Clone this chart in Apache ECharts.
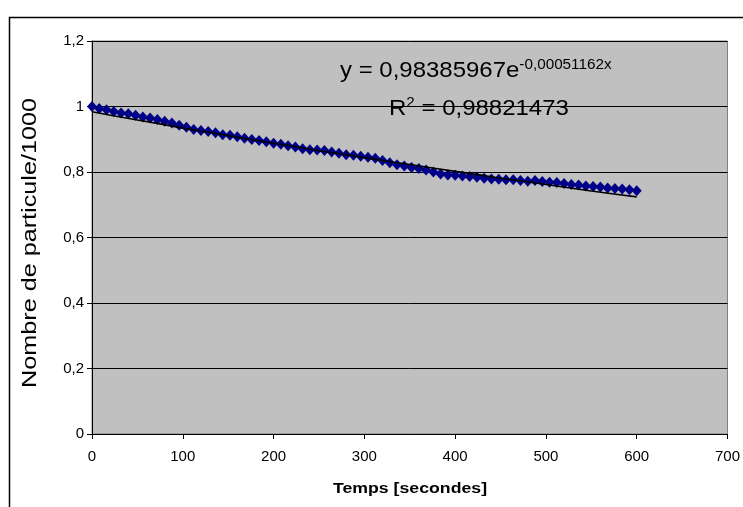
<!DOCTYPE html>
<html>
<head>
<meta charset="utf-8">
<script src="https://cdn.jsdelivr.net/npm/echarts@6/dist/echarts.min.js"></script>
<style>
html,body{margin:0;padding:0;background:#fff;}
#c{width:743px;height:507px;}
</style>
</head>
<body>
<div id="c"></div>
<script>
// Measured data (time in seconds, particles/1000)
var times = [0,8,16,24,32,40,48,56,64,72,80,88,96,104,112,120,128,136,144,152,160,168,176,184,192,200,208,216,224,232,240,248,256,264,272,280,288,296,304,312,320,328,336,344,352,360,368,376,384,392,400,408,416,424,432,440,448,456,464,472,480,488,496,504,512,520,528,536,544,552,560,568,576,584,592,600];
var particles = [1.000,0.994,0.990,0.985,0.980,0.978,0.973,0.968,0.965,0.960,0.955,0.950,0.943,0.937,0.930,0.927,0.924,0.920,0.914,0.912,0.908,0.903,0.899,0.896,0.892,0.888,0.885,0.880,0.876,0.871,0.868,0.867,0.866,0.861,0.857,0.853,0.851,0.848,0.845,0.842,0.835,0.828,0.822,0.818,0.814,0.811,0.806,0.800,0.794,0.791,0.790,0.788,0.786,0.784,0.781,0.779,0.778,0.776,0.776,0.774,0.772,0.774,0.771,0.769,0.768,0.765,0.762,0.760,0.757,0.756,0.754,0.751,0.750,0.748,0.746,0.743];
// Trend line
var trendTimes = [0,25,50,75,100,125,150,175,200,225,250,275,300,325,350,375,400,425,450,475,500,525,550,575,600];
var trendValues = [0.984,0.971,0.959,0.947,0.934,0.923,0.911,0.899,0.888,0.877,0.865,0.855,0.844,0.833,0.823,0.812,0.802,0.792,0.781,0.772,0.762,0.752,0.742,0.733,0.724];
var xTitle = 'Temps [secondes]';
var yTitle = 'Nombre de particule/1000';
var eqMain = 'y = 0,98385967e';
var eqExp = '-0,00051162x';
var r2Label = '0,98821473';

var chart = echarts.init(document.getElementById('c'), null, {renderer:'canvas'});
var pts = times.map(function(t,i){return [t, particles[i]];});
var tpts = trendTimes.map(function(t,i){return [t, trendValues[i]];});
var fmt = function(v){return String(Math.round(v*10)/10).replace('.', ',');};
var font = 'Liberation Sans, Arial, sans-serif';
chart.setOption({
  animation:false,
  backgroundColor:'#ffffff',
  grid:{left:92, top:41, width:637, height:393, show:true, backgroundColor:'#c0c0c0', borderColor:'#808080', borderWidth:1},
  xAxis:{type:'value', min:0, max:700, interval:100,
    axisLine:{show:true, onZero:false, lineStyle:{color:'#000', width:1}},
    axisTick:{show:true, inside:false, length:5, lineStyle:{color:'#000'}},
    axisLabel:{fontFamily:font, fontSize:15, color:'#000', margin:15},
    splitLine:{show:false}},
  yAxis:{type:'value', min:0, max:1.2, interval:0.2,
    axisLine:{show:true, onZero:false, lineStyle:{color:'#000', width:1}},
    axisTick:{show:true, inside:false, length:5, lineStyle:{color:'#000'}},
    axisLabel:{fontFamily:font, fontSize:15, color:'#000', margin:8, formatter:fmt},
    splitLine:{show:true, lineStyle:{color:'#000', width:1}}},
  series:[
    {type:'scatter', data:pts, symbol:'diamond', symbolSize:[10,11],
     itemStyle:{color:'#000088', opacity:1}, z:2},
    {type:'line', data:tpts, showSymbol:false, symbol:'none', smooth:false,
     lineStyle:{color:'#000', width:1.6}, z:3}
  ],
  graphic:[
    {type:'rect', left:7, top:15, shape:{x:0,y:0,width:800,height:600}, style:{fill:'none', stroke:'#000', lineWidth:1.5}, z:-1, silent:true},
    {type:'text', x:30, y:243, rotation:Math.PI/2, scaleX:1.2, style:{
      text:yTitle, fontFamily:font, fontSize:21, fill:'#000', align:'center', verticalAlign:'middle'}, z:10},
    {type:'text', x:410, y:489, scaleX:1.18, style:{
      text:xTitle, fontFamily:font, fontSize:15, fontWeight:'bold', fill:'#000', align:'center', verticalAlign:'middle'}, z:10},
    {type:'text', x:340, y:58, scaleX:1.09, style:{
      text:'{m|'+eqMain+'}{s|'+eqExp+'}',
      rich:{m:{fontFamily:font, fontSize:22, fill:'#000', verticalAlign:'bottom'},
            s:{fontFamily:font, fontSize:14, fill:'#000', verticalAlign:'top', padding:[0,0,10,0]}}
    }, z:10},
    {type:'text', x:389, y:96, scaleX:1.09, style:{
      text:'{m|R}{s|2}{m| = '+r2Label+'}',
      rich:{m:{fontFamily:font, fontSize:22, fill:'#000'},
            s:{fontFamily:font, fontSize:14, fill:'#000', padding:[0,0,11,0]}}
    }, z:10}
  ]
});
</script>
</body>
</html>
